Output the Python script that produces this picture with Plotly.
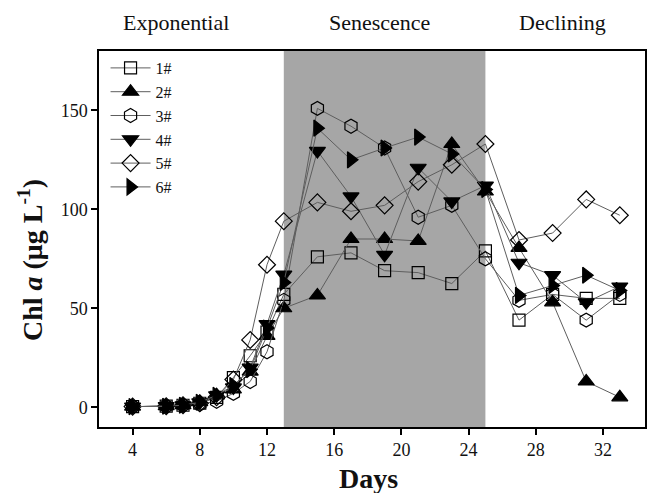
import plotly.graph_objects as go

days = [4, 6, 7, 8, 9, 10, 11, 12, 13, 15, 17, 19, 21, 23, 25, 27, 29, 31, 33]

s1 = [0.3, 0.5, 1.0, 2.0, 5.0, 15.0, 26.0, 38.0, 57.0, 76.0, 78.0, 69.0, 68.0, 62.5, 79.0, 44.0, 57.0, 55.0, 55.0]
s2 = [0.3, 0.5, 1.0, 2.5, 6.0, 9.0, 18.0, 36.0, 50.0, 56.5, 85.0, 85.0, 84.0, 133.0, 109.0, 80.5, 53.0, 13.0, 5.0]
s3 = [0.3, 0.5, 1.0, 1.5, 3.0, 7.0, 13.0, 28.0, 54.0, 151.0, 142.0, 131.0, 96.0, 102.0, 75.0, 54.0, 57.0, 44.0, 57.0]
s4 = [0.3, 0.5, 1.0, 2.5, 6.0, 10.0, 20.0, 42.0, 67.0, 129.5, 106.5, 77.0, 121.0, 104.0, 112.0, 73.0, 66.7, 53.0, 61.0]
s5 = [0.3, 0.5, 1.0, 2.0, 5.0, 14.0, 34.0, 72.0, 94.0, 103.5, 99.0, 102.0, 114.0, 122.5, 133.0, 84.5, 88.0, 105.0, 97.0]
s6 = [0.3, 0.5, 1.0, 2.5, 6.0, 11.0, 19.0, 40.0, 63.0, 141.0, 125.0, 131.0, 136.5, 128.0, 110.0, 56.5, 61.5, 66.7, 59.0]

names = ["1#", "2#", "3#", "4#", "5#", "6#"]
series = [s1, s2, s3, s4, s5, s6]
symbols = ["square-open", "triangle-up", "hexagon-open", "triangle-down", "diamond-open", "triangle-right"]
sizes = [12, 14, 14, 14, 13, 14]

phase_labels = ["Exponential", "Senescence", "Declining"]
phase_x = [6.6, 18.7, 29.6]
shade = [13, 25]

FONT = "Liberation Serif"

fig = go.Figure()
for name, ys, sym, sz in zip(names, series, symbols, sizes):
    fig.add_trace(go.Scatter(
        x=days, y=ys, name=name, mode="lines+markers",
        line=dict(color="#5e5e5e", width=1),
        marker=dict(symbol=sym, size=sz, color="black",
                    line=dict(color="black", width=1.2)),
    ))

fig.add_shape(type="rect", xref="x", yref="paper", x0=shade[0], x1=shade[1],
              y0=0, y1=1, fillcolor="#a6a6a6", line=dict(width=0), layer="below")

for t, xx in zip(phase_labels, phase_x):
    fig.add_annotation(text=t, x=xx, xref="x", y=1.075, yref="paper",
                       showarrow=False, font=dict(family=FONT, size=22, color="#111"),
                       yanchor="middle")

# axis titles
fig.add_annotation(text="<b>Days</b>", x=0.4927, y=-0.1356, xref="paper", yref="paper",
                   showarrow=False, xanchor="center", yanchor="middle",
                   height=30, borderpad=0,
                   font=dict(family=FONT, size=28, color="#111"))
fig.add_annotation(text="<b>Chl <i>a</i> (μg L<sup>-1</sup>)</b>", x=-0.1264, y=0.444,
                   xref="paper", yref="paper", textangle=-90,
                   showarrow=False, xanchor="center", yanchor="middle",
                   font=dict(family=FONT, size=28, color="#111"))

fig.update_layout(
    width=653, height=494,
    margin=dict(l=99, r=8, t=51, b=67),
    paper_bgcolor="white", plot_bgcolor="white",
    font=dict(family=FONT, size=18, color="#111"),
    showlegend=True,
    legend=dict(x=0.012, y=1.0, xanchor="left", yanchor="top",
                bgcolor="rgba(0,0,0,0)", font=dict(family=FONT, size=16),
                itemwidth=40, tracegroupgap=0),
)
fig.update_xaxes(range=[2, 34.5], tickvals=[4, 8, 12, 16, 20, 24, 28, 32],
                 showline=True, mirror=True, linecolor="black", linewidth=1.5,
                 ticks="outside", ticklen=6, tickwidth=1.5, tickcolor="black",
                 showgrid=False, zeroline=False, automargin=False,
                 tickfont=dict(family=FONT, size=18))
fig.update_yaxes(range=[-10, 180], tickvals=[0, 50, 100, 150],
                 showline=True, mirror=True, linecolor="black", linewidth=1.5,
                 ticks="outside", ticklen=6, tickwidth=1.5, tickcolor="black",
                 showgrid=False, zeroline=False, automargin=False,
                 tickfont=dict(family=FONT, size=18))

fig.write_html("out.html")
